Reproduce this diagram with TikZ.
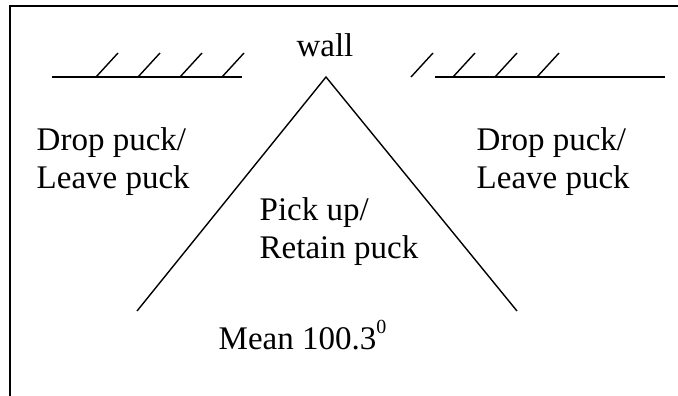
\documentclass[tikz,border=0pt]{standalone}
\usepackage{fontspec}
\setmainfont{Liberation Serif}
\begin{document}
\begin{tikzpicture}[x=1pt,y=-1pt,
        line width=1.4pt,
        labeltext/.style={inner sep=0pt, font=\fontsize{33}{38}\selectfont},
        blocktext/.style={labeltext, align=left, anchor=north west}]
        \useasboundingbox (0,0) rectangle (678,396);
        \draw[line width=2.6pt] (10,396) -- (10,6) -- (678,6);

        % left wall
        \draw (52,77) -- (242,77);
        \draw (96,77) -- (118,53);
        \draw (138,77) -- (160,53);
        \draw (180,77) -- (202,53);
        \draw (222,77) -- (244,53);

        % right wall
        \draw (435,77) -- (665,77);
        \draw (411,77) -- (433,53);
        \draw (453,77) -- (475,53);
        \draw (495,77) -- (517,53);
        \draw (537,77) -- (559,53);

        \coordinate (apex) at (326,77);
        \coordinate (leftend) at (137,311);
        \coordinate (rightend) at (517,311);
        \draw (leftend) -- (apex) -- (rightend);

        \node[labeltext, anchor=base] (walltext) at (325,57) {wall};
        \node[blocktext] (dropleft) at (36,127) {Drop puck/\\Leave puck};
        \node[blocktext] (dropright) at (476,127) {Drop puck/\\Leave puck};
        \node[blocktext] (pickup) at (259,197) {Pick up/\\Retain puck};
        \node[labeltext, anchor=base west] (meanangle) at (218,349)
            {Mean 100.3\raisebox{16pt}{\fontsize{20}{20}\selectfont 0}};

    \end{tikzpicture}
\end{document}
